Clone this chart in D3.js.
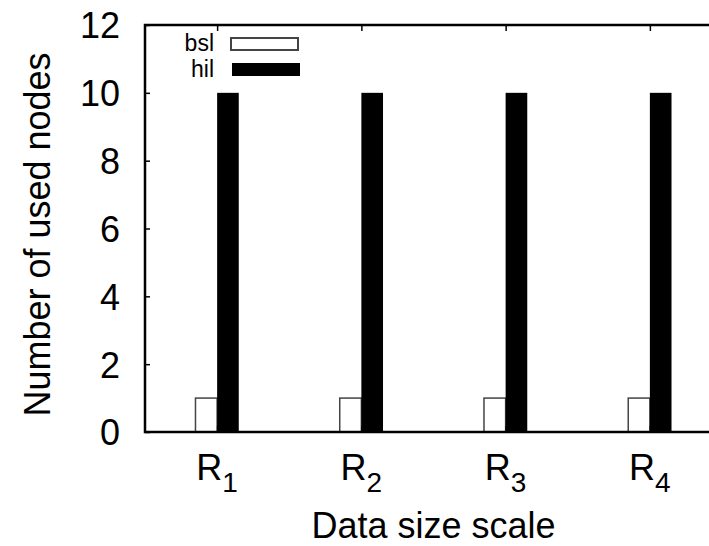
<html>
<head>
<meta charset="UTF-8">
<title>used nodes</title>
<script src="https://cdn.jsdelivr.net/npm/d3@7"></script>
<style>
 body { margin: 0; background: #fff; }
 text { font-family: "Liberation Sans", Arial, sans-serif; fill: #000; }
</style>
</head>
<body>
<svg id="chart" width="709" height="546"></svg>
<script>
// data
var categories = ["1", "2", "3", "4"];   // subscripts of R
var bslValues = [1, 1, 1, 1];
var hilValues = [10, 10, 10, 10];
var yTicks = [0, 2, 4, 6, 8, 10, 12];
var seriesNames = ["bsl", "hil"];

var svg = d3.select("#chart");

// plot box (right edge runs past the window, like the original)
var boxL = 145, boxT = 25, boxR = 722, boxB = 432;

var x = d3.scaleLinear().domain([-0.5, categories.length - 0.5]).range([boxL, boxR]);
var y = d3.scaleLinear().domain([0, 12]).range([boxB, boxT]);
var barW = 0.15; // in category units

// bars
var g = svg.append("g");
g.selectAll("rect.bsl").data(bslValues)
 .enter().append("rect").attr("class", "bsl")
 .attr("x", function(d, i) { return x(i - barW); })
 .attr("width", function(d, i) { return x(i) - x(i - barW); })
 .attr("y", function(d) { return y(d); })
 .attr("height", function(d) { return y(0) - y(d); })
 .style("fill", "#fff").style("stroke", "#444").style("stroke-width", 1.5);

g.selectAll("rect.hil").data(hilValues)
 .enter().append("rect").attr("class", "hil")
 .attr("x", function(d, i) { return x(i); })
 .attr("width", function(d, i) { return x(i + barW) - x(i); })
 .attr("y", function(d) { return y(d); })
 .attr("height", function(d) { return y(0) - y(d); })
 .style("fill", "#000");

// y axis, ticks pointing inward
var yAxis = d3.axisLeft(y).tickValues(yTicks).tickSizeInner(-5).tickSizeOuter(0).tickPadding(25);
var ya = svg.append("g").attr("transform", "translate(" + boxL + ",0)").call(yAxis);
ya.select(".domain").remove();
ya.selectAll("line").style("stroke", "#000").style("stroke-width", 1.5);
ya.selectAll("text").style("font-size", "36px").attr("dy", "0.36em");

// top mirror ticks
var xTop = d3.axisTop(x).tickValues(d3.range(categories.length)).tickSizeInner(-6).tickSizeOuter(0).tickFormat("");
var xt = svg.append("g").attr("transform", "translate(0," + boxT + ")").call(xTop);
xt.select(".domain").remove();
xt.selectAll("line").style("stroke", "#000").style("stroke-width", 1.5);

// bottom ticks and labels R with subscript
var xBot = d3.axisBottom(x).tickValues(d3.range(categories.length)).tickSizeInner(-6).tickSizeOuter(0).tickFormat("");
var xb = svg.append("g").attr("transform", "translate(0," + boxB + ")").call(xBot);
xb.select(".domain").remove();
xb.selectAll("line").style("stroke", "#000").style("stroke-width", 1.5);

var lab = svg.selectAll("text.xlab").data(categories)
 .enter().append("text").attr("class", "xlab")
 .attr("x", function(d, i) { return x(i); })
 .attr("y", 480)
 .attr("text-anchor", "middle")
 .style("font-size", "36px");
lab.append("tspan").text("R");
lab.append("tspan").attr("dy", 12).style("font-size", "28px").text(function(d) { return d; });

// frame
svg.append("rect")
 .attr("x", boxL).attr("y", boxT)
 .attr("width", boxR - boxL).attr("height", boxB - boxT)
 .style("fill", "none").style("stroke", "#000").style("stroke-width", 2.5);

// legend
var legend = svg.append("g");
var legY = [44, 70];
legend.selectAll("text").data(seriesNames)
 .enter().append("text")
 .attr("x", 214).attr("y", function(d, i) { return legY[i] + 7; })
 .attr("text-anchor", "end")
 .style("font-size", "23px")
 .text(function(d) { return d; });
legend.append("rect").attr("x", 231).attr("y", 38).attr("width", 67).attr("height", 12)
 .style("fill", "#fff").style("stroke", "#444").style("stroke-width", 2);
legend.append("rect").attr("x", 232).attr("y", 63).attr("width", 68).attr("height", 13)
 .style("fill", "#000");

// axis titles
svg.append("text")
 .attr("x", (boxL + boxR) / 2).attr("y", 538)
 .attr("text-anchor", "middle")
 .style("font-size", "36px")
 .text("Data size scale");

svg.append("text")
 .attr("transform", "translate(50," + ((boxT + boxB) / 2 + 6) + ") rotate(-90)")
 .attr("text-anchor", "middle")
 .style("font-size", "36px")
 .text("Number of used nodes");
</script>
</body>
</html>
